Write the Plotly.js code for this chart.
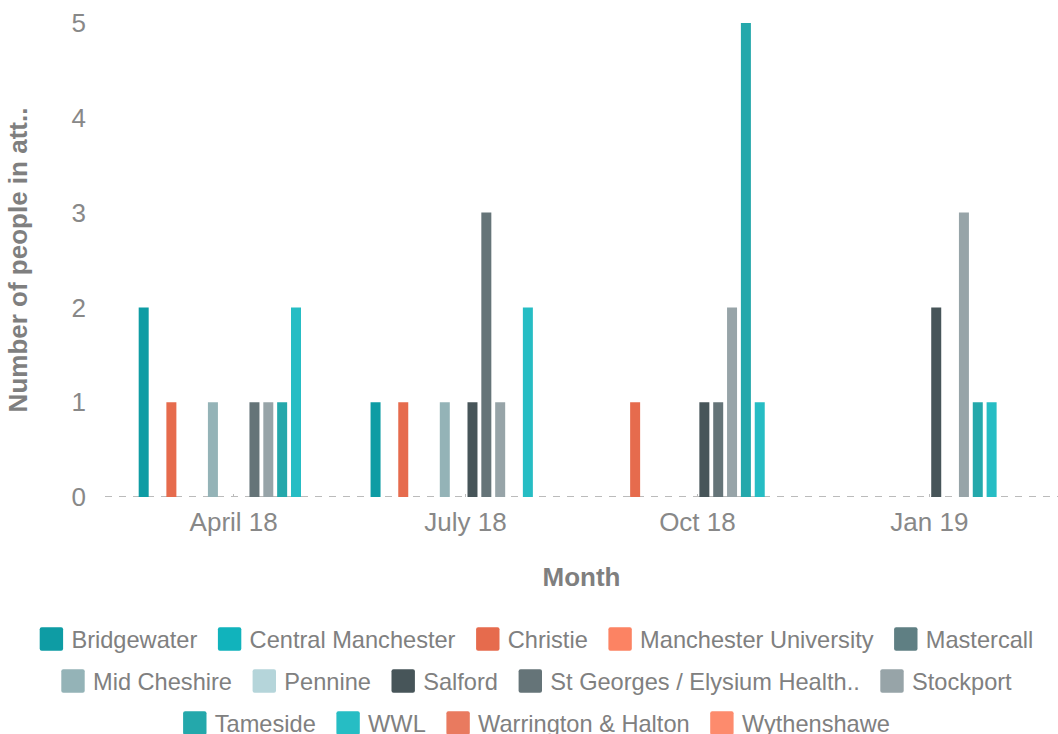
<!DOCTYPE html>
<html>
<head>
<meta charset="utf-8">
<script src="https://cdn.plot.ly/plotly-3.0.1.min.js"></script>
<style>html,body{margin:0;padding:0;background:#fff;}#chart{width:1058px;height:734px;}</style>
</head>
<body>
<div id="chart"></div>
<script>
const categories = ['April 18', 'July 18', 'Oct 18', 'Jan 19'];
const seriesNames = ['Bridgewater', 'Central Manchester', 'Christie', 'Manchester University', 'Mastercall',
  'Mid Cheshire', 'Pennine', 'Salford', 'St Georges / Elysium Health..', 'Stockport',
  'Tameside', 'WWL', 'Warrington & Halton', 'Wythenshawe'];
const bridgewater = [2, 1, 0, 0];
const centralManchester = [0, 0, 0, 0];
const christie = [1, 1, 1, 0];
const manchesterUniversity = [0, 0, 0, 0];
const mastercall = [0, 0, 0, 0];
const midCheshire = [1, 1, 0, 0];
const pennine = [0, 0, 0, 0];
const salford = [0, 1, 1, 2];
const stGeorges = [1, 3, 1, 0];
const stockport = [1, 1, 2, 3];
const tameside = [1, 0, 5, 1];
const wwl = [2, 2, 1, 1];
const warrington = [0, 0, 0, 0];
const wythenshawe = [0, 0, 0, 0];
const seriesValues = [bridgewater, centralManchester, christie, manchesterUniversity, mastercall,
  midCheshire, pennine, salford, stGeorges, stockport, tameside, wwl, warrington, wythenshawe];
const colors = ['#0e9ca4', '#11b3bc', '#e66b4d', '#fc8363', '#5f7f83',
  '#94b3b7', '#b5d5da', '#475559', '#657478', '#97a4a8',
  '#24a8ab', '#26bdc4', '#e97a5f', '#fd8b6d'];

const FONT = '"Liberation Sans", Arial, sans-serif';
const traces = seriesNames.map((name, i) => ({
  type: 'bar',
  name: name,
  legendgroup: 'g' + i,
  x: categories,
  y: seriesValues[i],
  marker: {color: colors[i]},
  hoverinfo: 'x+y+name'
}));

const layout = {
  width: 1058, height: 734,
  margin: {l: 105, r: 0, t: 23, b: 237},
  paper_bgcolor: '#fff', plot_bgcolor: '#fff',
  font: {family: FONT, size: 26, color: '#888'},
  barmode: 'group',
  bargap: 0.164,
  bargroupgap: 0.278,
  showlegend: true,
  legend: {
    orientation: 'h', xref: 'container', x: 0.5, xanchor: 'center',
    yref: 'container', y: 0.16, yanchor: 'top',
    font: {family: FONT, size: 23.6, color: '#808080'},
    traceorder: 'grouped', tracegroupgap: 8, itemwidth: 30
  },
  xaxis: {
    type: 'category',
    range: [-0.555, 3.555],
    showgrid: false, zeroline: false, showline: false,
    ticks: 'inside', ticklen: 3, tickcolor: '#bbb',
    tickfont: {family: FONT, size: 26, color: '#888'},
    ticklabelstandoff: 7,
    title: {text: 'Month', font: {family: FONT, size: 26, color: '#7f7f7f', weight: 'bold'}, standoff: 31}
  },
  yaxis: {
    range: [0, 5], dtick: 1,
    showgrid: false, zeroline: false, showline: false,
    tickfont: {family: FONT, size: 26, color: '#888'},
    ticklabelstandoff: 18,
    title: {text: 'Number of people in att..', font: {family: FONT, size: 26, color: '#7f7f7f', weight: 'bold'}, standoff: 36}
  },
  shapes: [{
    type: 'line', xref: 'paper', yref: 'y', x0: 0, x1: 1, y0: 0, y1: 0,
    line: {color: '#bbb', width: 2, dash: '7px,7px'}, layer: 'below'
  }]
};

Plotly.newPlot('chart', traces, layout, {displayModeBar: false, responsive: false}).then(gd => {
  const sq = 'M-9.7,-11.7H9.7A2,2 0 0 1 11.7,-9.7V9.7A2,2 0 0 1 9.7,11.7H-9.7A2,2 0 0 1 -11.7,9.7V-9.7A2,2 0 0 1 -9.7,-11.7Z';
  const legend = gd.querySelector('g.legend');
  if (!legend) return;
  legend.querySelectorAll('.legendpoints path').forEach(p => p.setAttribute('d', sq));
  legend.setAttribute('transform', 'translate(0,0)');
  const scrollbox = legend.querySelector('.scrollbox');
  if (scrollbox) { scrollbox.removeAttribute('clip-path'); scrollbox.setAttribute('transform', 'translate(0,0)'); }
  legend.querySelectorAll('.scrollbar').forEach(e => e.style.display = 'none');
  const bg = legend.querySelector('rect.bg'); if (bg) bg.style.display = 'none';
  legend.querySelectorAll('g.groups').forEach(g => g.setAttribute('transform', 'translate(0,0)'));
  const items = Array.from(legend.querySelectorAll('g.traces'));
  const widths = items.map(it => { const t = it.querySelector('text.legendtext'); return t ? t.getComputedTextLength() : 0; });
  const GAP = 12.3, LEAD = 8.3, MAXW = 1045, CX = 536.5;
  const rowY = [639, 681, 723, 765];
  const rows = []; let cur = [], curW = 0;
  items.forEach((it, i) => {
    const w = 40 + widths[i];
    const add = cur.length ? GAP + w : w;
    if (cur.length && curW + add - LEAD > MAXW) { rows.push(cur); cur = []; curW = 0; }
    curW += cur.length ? GAP + w : w;
    cur.push(i);
  });
  if (cur.length) rows.push(cur);
  rows.forEach((row, r) => {
    const total = row.reduce((s, i) => s + 40 + widths[i], 0) + GAP * (row.length - 1) - LEAD;
    let x = CX - total / 2 - LEAD;
    row.forEach(i => {
      items[i].setAttribute('transform', 'translate(' + x.toFixed(1) + ',' + rowY[r] + ')');
      x += 40 + widths[i] + GAP;
    });
  });
});
</script>
</body>
</html>
